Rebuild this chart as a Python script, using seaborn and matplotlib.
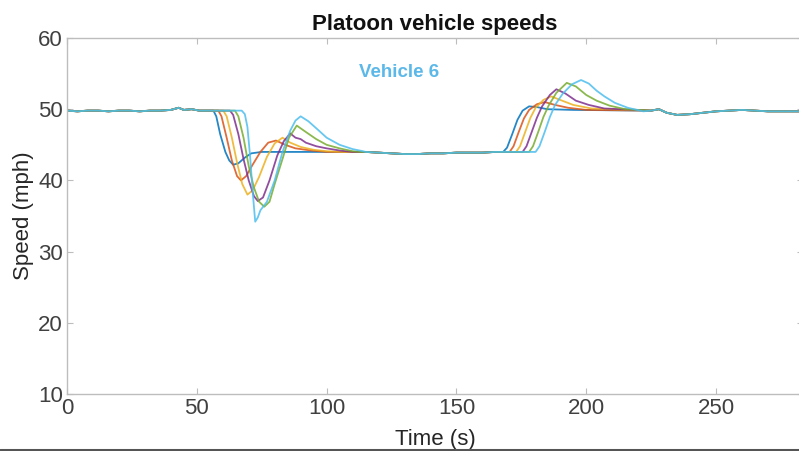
import matplotlib
matplotlib.use("Agg")
import matplotlib.pyplot as plt
from matplotlib.lines import Line2D
import pandas as pd
import seaborn as sns

# ---- data -------------------------------------------------------------
vehicles = ["Vehicle 1", "Vehicle 2", "Vehicle 3", "Vehicle 4", "Vehicle 5", "Vehicle 6"]
colors = ["#0072BD", "#D95319", "#EDB120", "#7E2F8E", "#77AC30", "#4DBEEE"]

# shared steady-state stretches (s, mph)
cruise_t = [0, 4, 8, 12, 16, 20, 24, 28, 32, 36, 40, 43, 45, 48, 51, 54]
cruise_v = [49.8, 49.7, 49.8, 49.8, 49.7, 49.8, 49.8, 49.7, 49.8, 49.8, 49.9, 50.2, 49.9, 50.0, 49.8, 49.8]
slow_t = [115, 120, 125, 130, 135, 140, 145, 150, 155, 160, 165]
slow_v = [44.0, 43.9, 43.8, 43.7, 43.7, 43.8, 43.8, 43.9, 43.9, 43.9, 44.0]
tail_t = [225, 228, 231, 235, 240, 245, 250, 255, 260, 265, 270, 276, 284]
tail_v = [49.8, 50.0, 49.5, 49.2, 49.3, 49.5, 49.7, 49.8, 49.9, 49.8, 49.7, 49.7, 49.7]

# braking wave
veh1_brake_t = [56.4, 57.5, 59, 61, 62.5, 64, 66, 68.5, 71, 75, 85, 100]
veh1_brake_v = [49.8, 49.0, 46.5, 44.0, 42.8, 42.2, 42.4, 43.2, 43.8, 44.0, 44.0, 44.0]
veh2_brake_t = [58.3, 59.5, 61.5, 63.5, 65.5, 67, 69, 71.5, 74.5, 77.5, 80.5, 84, 88, 94, 100]
veh2_brake_v = [49.8, 49.0, 46.0, 42.8, 40.6, 40.0, 40.6, 42.2, 44.0, 45.3, 45.6, 45.0, 44.5, 44.2, 44.0]
veh3_brake_t = [60.2, 61.5, 63.5, 65.5, 67.5, 69.5, 71.5, 74, 77, 80, 83, 86, 90, 95, 100, 106]
veh3_brake_v = [49.8, 49.0, 46.0, 42.5, 39.5, 38.0, 38.6, 40.5, 43.3, 45.2, 46.0, 45.3, 44.7, 44.3, 44.1, 44.0]
veh4_brake_t = [62.8, 64, 66, 68, 70, 72, 73.5, 75.5, 78, 81, 83.5, 86, 88, 90, 92, 96, 100, 105, 110]
veh4_brake_v = [49.8, 49.2, 46.5, 43.0, 40.0, 37.8, 37.1, 37.6, 40.0, 43.5, 45.5, 46.6, 46.0, 45.8, 45.3, 44.8, 44.5, 44.2, 44.0]
veh5_brake_t = [64.7, 66, 68, 70, 72, 74, 76, 78, 80, 83, 85.5, 88.5, 92, 96, 100, 105, 110, 113]
veh5_brake_v = [49.8, 49.0, 46.0, 42.0, 39.0, 37.0, 36.3, 37.0, 39.5, 43.0, 46.0, 47.7, 46.8, 45.8, 45.0, 44.5, 44.1, 44.0]
veh6_brake_t = [67.3, 68.5, 69.5, 70.5, 71.5, 72.5, 73.5, 74.5, 77, 80, 83, 86, 88, 90, 93, 97, 100, 105, 110, 114]
veh6_brake_v = [49.8, 49.3, 47.5, 43.5, 38.5, 34.2, 34.8, 35.8, 37.0, 40.0, 44.0, 47.0, 48.4, 49.0, 48.3, 47.0, 46.0, 45.0, 44.4, 44.1]

# acceleration wave
veh1_accel_t = [168, 169.5, 171.5, 173.5, 175.5, 178, 181, 185, 195]
veh1_accel_v = [44.0, 44.6, 46.5, 48.5, 49.8, 50.4, 50.3, 50.0, 49.9]
veh2_accel_t = [170.5, 172, 174, 176, 178, 181, 184, 188, 193, 200]
veh2_accel_v = [44.0, 44.8, 46.8, 48.7, 49.9, 50.7, 51.0, 50.6, 50.2, 49.9]
veh3_accel_t = [173, 174.5, 176.5, 178.5, 180.5, 183.5, 186.5, 190, 195, 202]
veh3_accel_v = [44.0, 44.8, 46.8, 48.8, 50.2, 51.3, 51.8, 51.3, 50.6, 50.1]
veh4_accel_t = [175.5, 177, 179, 181, 183, 186, 188.5, 192, 196, 201, 207]
veh4_accel_v = [44.0, 44.8, 46.8, 48.8, 50.4, 52.0, 52.8, 52.2, 51.2, 50.6, 50.1]
veh5_accel_t = [178, 179.5, 181.5, 183.5, 185.5, 188.5, 192.5, 196, 200, 204, 209, 215]
veh5_accel_v = [44.0, 44.8, 46.8, 48.9, 50.5, 52.3, 53.7, 53.2, 52.0, 51.2, 50.5, 50.0]
veh6_accel_t = [180.5, 182, 184, 186, 188, 191, 194.5, 198, 201, 204, 207, 211, 216, 222]
veh6_accel_v = [44.0, 44.8, 46.8, 48.9, 50.6, 52.2, 53.5, 54.1, 53.6, 52.6, 51.8, 50.9, 50.2, 49.7]

brake_t = [veh1_brake_t, veh2_brake_t, veh3_brake_t, veh4_brake_t, veh5_brake_t, veh6_brake_t]
brake_v = [veh1_brake_v, veh2_brake_v, veh3_brake_v, veh4_brake_v, veh5_brake_v, veh6_brake_v]
accel_t = [veh1_accel_t, veh2_accel_t, veh3_accel_t, veh4_accel_t, veh5_accel_t, veh6_accel_t]
accel_v = [veh1_accel_v, veh2_accel_v, veh3_accel_v, veh4_accel_v, veh5_accel_v, veh6_accel_v]

rows = []
for name, bt, bv, at, av in zip(vehicles, brake_t, brake_v, accel_t, accel_v):
    t = cruise_t + bt + slow_t + at + tail_t
    v = cruise_v + bv + slow_v + av + tail_v
    for ti, vi in zip(t, v):
        rows.append({"vehicle": name, "time": ti, "speed": vi})
df = pd.DataFrame(rows)

# ---- figure -----------------------------------------------------------
sns.set_theme(style="white")
plt.rcParams["font.family"] = ["Liberation Sans", "DejaVu Sans"]

fig = plt.figure(figsize=(7.99, 4.51), dpi=100)
ax = fig.add_axes([67 / 799, 1 - 394 / 451, 736 / 799, 356 / 451])

sns.lineplot(data=df, x="time", y="speed", hue="vehicle", palette=colors,
             hue_order=vehicles, estimator=None, sort=False, units="vehicle",
             legend=False, linewidth=1.3, alpha=0.85, ax=ax)

ax.set_xlim(0, 283.5)
ax.set_ylim(10, 60)
ax.set_xticks([0, 50, 100, 150, 200, 250])
ax.set_yticks([10, 20, 30, 40, 50, 60])

spine_col = "#BDBDBD"
for s in ax.spines.values():
    s.set_color(spine_col)
    s.set_linewidth(1.0)
ax.tick_params(direction="in", length=4, width=0.8, colors=spine_col,
               labelcolor="#404040", labelsize=16, pad=3,
               top=True, right=True, bottom=True, left=True)

ax.set_title("Platoon vehicle speeds", fontsize=16, fontweight="bold",
             color="#111111", pad=6)
ax.set_xlabel("Time (s)", fontsize=16, color="#262626", labelpad=7)
ax.set_ylabel("Speed (mph)", fontsize=16, color="#262626", labelpad=2.5)

ax.text(128, 55.1, "Vehicle 6", fontsize=13.5, fontweight="bold",
        color="#5BB8E8", ha="center", va="center")

# thin dark rule along the bottom edge
fig.add_artist(Line2D([0, 1], [1.5 / 451, 1.5 / 451], transform=fig.transFigure,
                      color="#555555", linewidth=2.2))

fig.savefig("out.png", dpi=100, facecolor="white")
